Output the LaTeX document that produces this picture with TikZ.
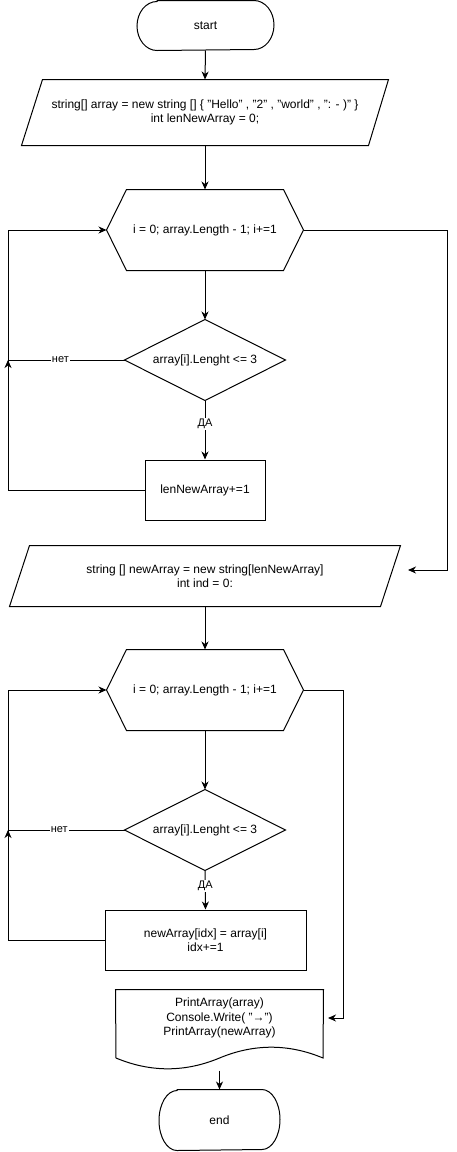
\documentclass[tikz,border=0pt]{standalone}
\usepackage{fontspec}
\setmainfont{Liberation Sans}
\usetikzlibrary{arrows.meta}
\begin{document}
\begin{tikzpicture}[x=1pt,y=-1pt,line width=1pt,
  font=\fontsize{12}{14.4}\selectfont,
  ghost/.style={draw=none,inner sep=0pt,align=center},
  proc/.style={draw,inner sep=0pt,align=center},
  arr/.style={-{Stealth[length=8pt,width=7pt,inset=2.5pt]}},
  lbl/.style={fill=white,inner sep=1pt,font=\fontsize{11}{13}\selectfont}]
\useasboundingbox (0,0) rectangle (456,1152);

% nodes
\node[ghost,minimum width=136pt,minimum height=49pt] (start) at (205.5,25.5) {start};
\node[ghost,minimum width=366pt,minimum height=65pt] (p1) at (205,112.5)
  {string[] array = new string [] \{ "Hello" , "2" , "world" , ": - )" \}\\int lenNewArray = 0;};
\node[ghost,minimum width=196pt,minimum height=80pt] (h1) at (205,230) {i = 0; array.Length - 1; i+=1};
\node[ghost,minimum width=160pt,minimum height=80pt] (d1) at (205,360) {array[i].Lenght <= 3};
\node[proc,minimum width=120pt,minimum height=60pt] (b1) at (205,490) {lenNewArray+=1};
\node[ghost,minimum width=390pt,minimum height=60pt] (p2) at (205,576)
  {string [] newArray = new string[lenNewArray]\\int ind = 0:};
\node[ghost,minimum width=196pt,minimum height=80pt] (h2) at (205,690) {i = 0; array.Length - 1; i+=1};
\node[ghost,minimum width=160pt,minimum height=80pt] (d2) at (205,830) {array[i].Lenght <= 3};
\node[proc,minimum width=201pt,minimum height=60pt] (b2) at (205.5,940) {newArray[idx] = array[i]\\idx+=1};
\node[ghost,minimum width=207pt,minimum height=80pt] (doc) at (219.5,1030) {};
\node[ghost] (doctxt) at (219.5,1018) {PrintArray(array)\\Console.Write( "→")\\PrintArray(newArray)};
\node[ghost,minimum width=120pt,minimum height=60pt] (end) at (219.5,1120) {end};

% shapes
\draw ([xshift=20pt]start.north west) -- ([xshift=-20pt]start.north east)
  arc[start angle=90,end angle=-90,x radius=20pt,y radius=24.5pt]
  -- ([xshift=20pt]start.south west)
  arc[start angle=270,end angle=90,x radius=20pt,y radius=24.5pt] -- cycle;
\draw ([xshift=18pt]end.north west) -- ([xshift=-18pt]end.north east)
  arc[start angle=90,end angle=-90,x radius=18pt,y radius=30pt]
  -- ([xshift=18pt]end.south west)
  arc[start angle=270,end angle=90,x radius=18pt,y radius=30pt] -- cycle;
\draw ([xshift=21pt]p1.north west) -- (p1.north east) -- ([xshift=-20pt]p1.south east) -- (p1.south west) -- cycle;
\draw ([xshift=20pt]p2.north west) -- (p2.north east) -- ([xshift=-20pt]p2.south east) -- (p2.south west) -- cycle;
\foreach \h in {h1,h2}{
  \draw (\h.west) -- ([xshift=20pt]\h.north west) -- ([xshift=-20pt]\h.north east) -- (\h.east)
    -- ([xshift=-20pt]\h.south east) -- ([xshift=20pt]\h.south west) -- cycle;}
\foreach \d in {d1,d2}{
  \draw (\d.north) -- (\d.east) -- (\d.south) -- (\d.west) -- cycle;}
\draw (doc.north west) -- (doc.north east) -- (323,1058)
  .. controls (288.5,1043.6) and (254,1043.6) .. (219.5,1058)
  .. controls (185,1072.4) and (150.5,1072.4) .. (116,1058) -- cycle;

% helper coordinates
\coordinate (lx) at (8,0);
\coordinate (rx1) at (447,0);
\coordinate (rx2) at (343,0);
\coordinate (p2in) at (408,570);
\coordinate (docin) at (328,1018);

% connectors
\draw[arr] (start.south) -- (p1.north);
\draw[arr] (p1.south) -- (h1.north);
\draw[arr] (h1.south) -- (d1.north);
\draw[arr] (d1.south) -- node[lbl,pos=0.4]{ДА} (b1.north);
\draw (d1.west) -- node[lbl,pos=0.55]{нет} (d1.west -| lx);
\draw[arr] (d1.west -| lx) ++(0,8) -- ++(0,-8);
\draw[arr] (b1.west) -- (b1.west -| lx) |- (h1.west);
\draw[arr] (h1.east) -| (p2in -| rx1) -- (p2in);

\draw[arr] (p2.south) -- (h2.north);
\draw[arr] (h2.south) -- (d2.north);
\draw[arr] (d2.south) -- node[lbl,pos=0.4]{ДА} (b2.north);
\draw (d2.west) -- node[lbl,pos=0.56]{нет} (d2.west -| lx);
\draw[arr] (d2.west -| lx) ++(0,8) -- ++(0,-8);
\draw[arr] (b2.west) -- (b2.west -| lx) |- (h2.west);
\draw[arr] (h2.east) -| (docin -| rx2) -- (docin);
\draw[arr] (doc.south) -- (end.north);
\end{tikzpicture}
\end{document}
